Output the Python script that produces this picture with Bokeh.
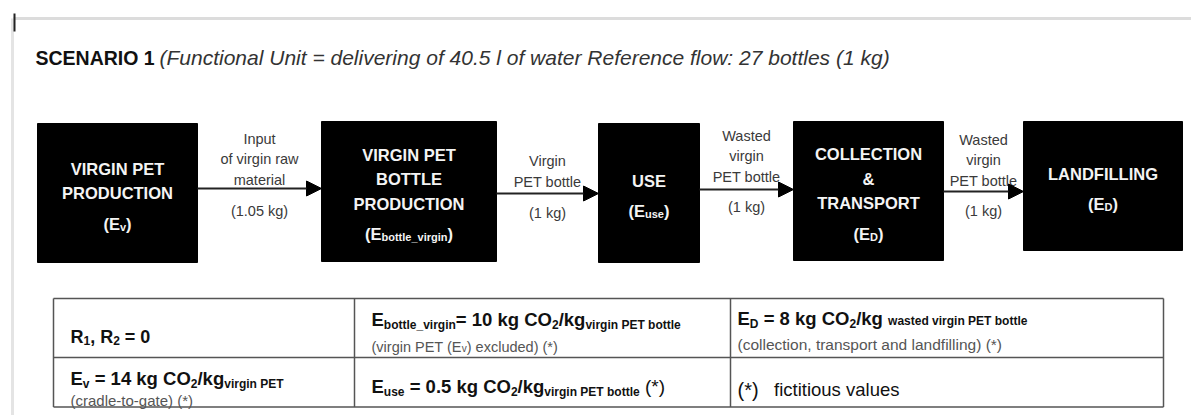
from bokeh.plotting import figure
from bokeh.models import Range1d, Arrow, NormalHead
from bokeh.core.properties import value
from bokeh.embed import file_html
from bokeh.resources import INLINE

# ---------------- data ----------------
title_main = "SCENARIO 1"
title_note = "(Functional Unit = delivering of 40.5 l of water Reference flow: 27 bottles (1 kg)"

stage_names = [
    ["VIRGIN PET", "PRODUCTION"],
    ["VIRGIN PET", "BOTTLE", "PRODUCTION"],
    ["USE"],
    ["COLLECTION", "&", "TRANSPORT"],
    ["LANDFILLING"],
]
stage_symbols = ["v", "bottle_virgin", "use", "D", "D"]

flow_labels = [
    ["Input", "of virgin raw", "material"],
    ["Virgin", "PET bottle"],
    ["Wasted", "virgin", "PET bottle"],
    ["Wasted", "virgin", "PET bottle"],
]
flow_mass_kg = ["1.05", "1", "1", "1"]

recycling_rates = ["1", "2"]
recycling_value = "0"
factor_symbols = ["v", "bottle_virgin", "use", "D"]
factor_values = ["14", "10", "0.5", "8"]
factor_units = ["virgin PET", "virgin PET bottle", "virgin PET bottle", "wasted virgin PET bottle"]
factor_notes = ["(cradle-to-gate) (*)", "excluded) (*)", "", "(collection, transport and landfilling) (*)"]
footnote = "fictitious values"

# ---------------- layout ----------------
W, H = 1191, 415
FONT = "Liberation Sans"

box_left = [37, 321, 598, 793, 1023]
box_right = [197, 496, 699, 943, 1182]
box_top = [123, 121, 123, 121, 121]
box_bottom = [262, 261, 262, 260, 250]
arrow_y = [188, 193, 189, 191]
label_last_y = [179, 181, 176, 180]
mass_y = [210, 212, 206, 210]

col_edges = [53, 354, 730, 1163]
row_edges = [298, 357, 406.5]

p = figure(width=W, height=H, x_range=Range1d(0, W), y_range=Range1d(H, 0),
           output_backend="svg", toolbar_location=None, min_border=0,
           x_axis_type=None, y_axis_type=None)
p.grid.visible = False
p.outline_line_color = None
p.background_fill_color = "white"
p.border_fill_color = "white"

# width estimator (Liberation Sans = Arial metrics)
_R = {' ': 278, '(': 333, ')': 333, '*': 389, ',': 278, '-': 333, '.': 278, '/': 278, ':': 278,
      '=': 584, '&': 667, '_': 556,
      'A': 667, 'B': 667, 'C': 722, 'D': 722, 'E': 667, 'F': 611, 'G': 778, 'H': 722, 'I': 278,
      'K': 667, 'L': 556, 'M': 833, 'N': 722, 'O': 778, 'P': 667, 'R': 722, 'S': 667, 'T': 611,
      'U': 722, 'V': 667, 'W': 944,
      'a': 556, 'b': 556, 'c': 500, 'd': 556, 'e': 556, 'f': 278, 'g': 556, 'h': 556, 'i': 222,
      'j': 222, 'k': 500, 'l': 222, 'm': 833, 'n': 556, 'o': 556, 'p': 556, 'r': 333, 's': 500,
      't': 278, 'u': 556, 'v': 500, 'w': 722, 'x': 500, 'y': 500, 'z': 500}
_B = dict(_R)
_B.update({'&': 722, 'A': 722, 'B': 722, 'L': 611, 'b': 611, 'c': 556, 'd': 611, 'f': 333,
           'g': 611, 'h': 611, 'i': 278, 'k': 556, 'l': 278, 'n': 611, 'o': 611, 'p': 611,
           'r': 389, 's': 556, 't': 333, 'u': 611, 'v': 556, 'w': 778})


def tw(s, size, bold=False):
    t = _B if bold else _R
    return sum(t.get(c, 556) for c in s) * size / 1000.0


def txt(x, y, s, size, bold=False, italic=False, color="#111111", align="left", baseline="alphabetic"):
    style = "bold italic" if (bold and italic) else ("bold" if bold else ("italic" if italic else "normal"))
    p.text(x=[x], y=[y], text=[s], text_font=value(FONT), text_font_size=value(f"{size}px"),
           text_font_style=style, text_color=color, text_align=align, text_baseline=baseline)


def run(x, y, segs, color="#111111", align="left"):
    """segs: list of (text, size, bold, dy); SVG drops leading blanks, so they are advanced by hand"""
    total = sum(tw(s, sz, b) for s, sz, b, dy in segs)
    cx = x - total / 2 if align == "center" else x
    for s, sz, b, dy in segs:
        core = s.lstrip(" ")
        lead = s[: len(s) - len(core)]
        cx += tw(lead, sz, b)
        if core.strip():
            txt(cx, y + dy, core, sz, bold=b, color=color)
        cx += tw(core, sz, b)


# page frame
p.segment(x0=[13], y0=[18], x1=[W], y1=[18], line_color="#dcdcdc", line_width=3)
p.segment(x0=[12], y0=[18], x1=[12], y1=[H], line_color="#e4e4e4", line_width=3)
p.segment(x0=[14], y0=[13], x1=[14], y1=[31], line_color="#222222", line_width=2)

# title
txt(35, 57, title_main, 19.5, bold=True, color="#111111")
txt(159, 57, title_note, 21, italic=True, color="#333333")

# boxes
p.quad(left=box_left, right=box_right, top=box_top, bottom=box_bottom,
       fill_color="black", line_color="black")

LS = 24.5
for i, lines in enumerate(stage_names):
    cx = (box_left[i] + box_right[i]) / 2
    cy = (box_top[i] + box_bottom[i]) / 2
    n = len(lines) + 1
    for j, ln in enumerate(lines):
        y = cy + (j - (n - 1) / 2) * LS
        txt(cx, y, ln, 16.5, bold=True, color="#f4f4f4", align="center", baseline="middle")
    y = cy + ((n - 1) - (n - 1) / 2) * LS + 6
    run(cx, y, [("(E", 16.5, True, 0), (stage_symbols[i], 11, True, 3), (")", 16.5, True, 0)],
        color="#f4f4f4", align="center")

# arrows
for i in range(4):
    x0 = box_right[i]
    x1 = box_left[i + 1]
    p.add_layout(Arrow(end=NormalHead(size=15, fill_color="black", line_color="black"),
                       x_start=x0, y_start=arrow_y[i], x_end=x1, y_end=arrow_y[i],
                       line_color="#222222", line_width=2))
    cx = (x0 + x1) / 2
    lines = flow_labels[i]
    for j, ln in enumerate(lines):
        y = label_last_y[i] - (len(lines) - 1 - j) * 20.5
        txt(cx, y, ln, 14.5, color="#3a3a3a", align="center", baseline="middle")
    txt(cx, mass_y[i], f"({flow_mass_kg[i]} kg)", 14.5, color="#3a3a3a", align="center", baseline="middle")

# table
p.segment(x0=[col_edges[0]] * 3, y0=row_edges, x1=[col_edges[-1]] * 3, y1=row_edges,
          line_color="#555555", line_width=1.5)
p.segment(x0=col_edges, y0=[row_edges[0]] * 4, x1=col_edges, y1=[row_edges[-1]] * 4,
          line_color="#555555", line_width=1.5)

M, S, SD = 18.5, 12, 5
tx = [70, 371, 737]
NOTE = "#555555"
NS = 14.5

# R1, R2 = 0
run(tx[0], 336, [("R", 18, True, 0), (recycling_rates[0], 12, True, 4), (", R", 18, True, 0),
                 (recycling_rates[1], 12, True, 4), (" = " + recycling_value, 18, True, 0)])

# E_bottle_virgin
run(tx[1], 319, [("E", M, True, 0), (factor_symbols[1], S, True, SD),
                 ("= " + factor_values[1] + " kg CO", M, True, 0), ("2", S, True, SD),
                 ("/kg", M, True, 0), (factor_units[1], S, True, SD)])
run(tx[1], 346, [("(virgin PET (E", NS, False, 0), ("v", 10, False, 2), (") " + factor_notes[1], NS, False, 0)],
    color=NOTE)

# E_D
run(tx[2], 318, [("E", M, True, 0), (factor_symbols[3], S, True, SD),
                 (" = " + factor_values[3] + " kg CO", M, True, 0), ("2", S, True, SD),
                 ("/kg ", M, True, 0), (factor_units[3], S, True, 2)])
txt(tx[2], 344, factor_notes[3], 15.5, color=NOTE)

# E_v
run(tx[0], 378, [("E", M, True, 0), (factor_symbols[0], S, True, SD),
                 (" = " + factor_values[0] + " kg CO", M, True, 0), ("2", S, True, SD),
                 ("/kg", M, True, 0), (factor_units[0], S, True, SD)])
txt(tx[0], 400, factor_notes[0], 15, color=NOTE)

# E_use
run(tx[1], 386, [("E", M, True, 0), (factor_symbols[2], S, True, SD),
                 (" = " + factor_values[2] + " kg CO", M, True, 0), ("2", S, True, SD),
                 ("/kg", M, True, 0), (factor_units[2], S, True, SD), (" (*)", 19, False, 0)])

# footnote
run(tx[2], 389, [("(*)", 20, False, 0), ("   " + footnote, 18.5, False, 0)])

open("out.html", "w").write(file_html(p, INLINE))
